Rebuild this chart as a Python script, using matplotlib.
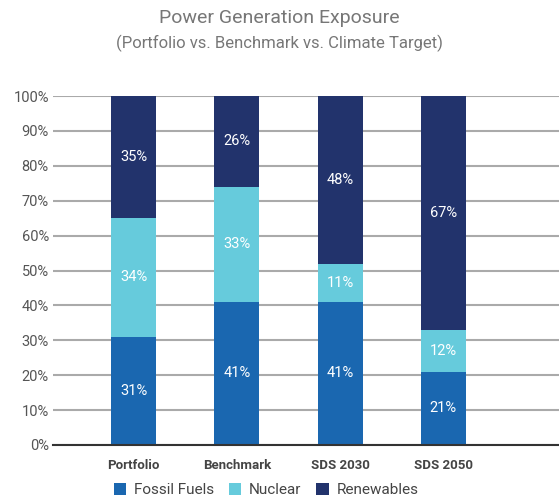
import matplotlib
matplotlib.use("Agg")
import matplotlib.pyplot as plt
import numpy as np
from matplotlib.patches import Patch

plt.rcParams['font.family'] = ['Roboto', 'DejaVu Sans']

categories = ["Portfolio", "Benchmark", "SDS 2030", "SDS 2050"]
fossil = [31, 41, 41, 21]
nuclear = [34, 33, 11, 12]
renewables = [35, 26, 48, 67]
series_names = ["Fossil Fuels", "Nuclear", "Renewables"]
colors = ["#1a67b0", "#66cbdc", "#22336c"]

fig = plt.figure(figsize=(5.59, 5.0), dpi=100)
ax = fig.add_axes([53/559, 55/500, 1 - 53/559, 349/500])

x = np.arange(len(categories))
w = 0.435
bottom = np.zeros(len(categories))
for vals, c in zip([fossil, nuclear, renewables], colors):
    vals = np.array(vals, dtype=float)
    ax.bar(x, vals, w, bottom=bottom, color=c, zorder=3, linewidth=0)
    for xi, b, v in zip(x, bottom, vals):
        ax.text(xi, b + v / 2, f"{int(v)}%", ha="center", va="center",
                color="white", fontsize=10.5, zorder=4)
    bottom += vals

ax.set_xlim(-0.78, 4.12)
ax.set_ylim(0, 100)
ax.set_yticks(np.arange(0, 101, 10))
ax.set_yticklabels([f"{v}%" for v in range(0, 101, 10)], fontsize=10.5, color="#555555")
ax.set_xticks(x)
ax.set_xticklabels(categories, fontsize=9.5, fontweight="bold", color="#444444")
ax.tick_params(axis="y", length=0, pad=3)
ax.tick_params(axis="x", length=0, pad=10)
ax.yaxis.grid(True, color="#aaaaaa", linewidth=1.5, zorder=0)
ax.set_axisbelow(True)
for s in ["top", "right", "left"]:
    ax.spines[s].set_visible(False)
ax.spines["bottom"].set_color("#333333")
ax.spines["bottom"].set_linewidth(1.5)
ax.spines["bottom"].set_zorder(5)

fig.text(0.5, 1 - 18/500, "Power Generation Exposure", ha="center", va="center",
         fontsize=14, color="#777777")
fig.text(0.5, 1 - 43/500, "(Portfolio vs. Benchmark vs. Climate Target)", ha="center",
         va="center", fontsize=12, color="#777777")

handles = [Patch(facecolor=c, edgecolor="none") for c in colors]
fig.legend(handles, series_names, loc="center", bbox_to_anchor=(266/559, 1 - 490/500),
           ncol=3, frameon=False, fontsize=11, handlelength=0.8, handleheight=0.8,
           handletextpad=0.5, columnspacing=1.0, labelcolor="#444444")

fig.savefig("out.png", dpi=100)
